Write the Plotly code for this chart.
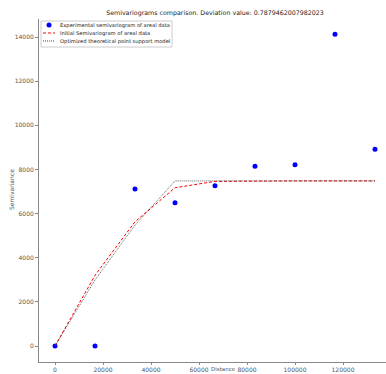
import plotly.graph_objects as go

lags = [0, 16667, 33333, 50000, 66667, 83333, 100000, 116667, 133333]
experimental = [0, 0, 7110, 6490, 7260, 8140, 8210, 14130, 8920]
initial_model = [0, 3200, 5630, 7170, 7460, 7480, 7480, 7480, 7480]
optimized_model = [0, 2990, 5480, 7480, 7480, 7480, 7480, 7480, 7480]

series_names = ["Experimental semivariogram of areal data",
                "Initial Semivariogram of areal data",
                "Optimized theoretical point support model"]
title_text = "Semivariograms comparison. Deviation value: 0.7879462007982023"
x_ticks = [0, 20000, 40000, 60000, 80000, 100000, 120000]
y_ticks = [0, 2000, 4000, 6000, 8000, 10000, 12000, 14000]

W, H = 386, 374
L, R, T, B = 39, 0, 19, 12
PW, PH = W - L - R, H - T - B


def px(x):
    return (x - L) / PW


def py(y):
    return (H - B - y) / PH


fig = go.Figure()
fig.add_trace(go.Scatter(x=lags, y=experimental, mode="markers",
                         marker=dict(color="blue", size=5),
                         name=series_names[0]))
fig.add_trace(go.Scatter(x=lags, y=initial_model, mode="lines",
                         line=dict(color="red", dash="3px,2px", width=1),
                         name=series_names[1]))
fig.add_trace(go.Scatter(x=lags, y=optimized_model, mode="lines",
                         line=dict(color="black", dash="1px,1px", width=1),
                         opacity=0.6,
                         name=series_names[2]))

axis_font = dict(family="DejaVu Sans", size=6, color="#555555")
fig.update_layout(
    width=W, height=H,
    margin=dict(l=L, r=R, t=T, b=B),
    plot_bgcolor="white", paper_bgcolor="white",
    showlegend=False,
    title=dict(text=title_text, xref="paper", x=(215 - L) / PW, xanchor="center",
               yref="container", y=1 - 13 / H, yanchor="middle",
               font=dict(family="DejaVu Sans", size=6.3, color="#222222")),
    xaxis=dict(range=[-6667, 137917], tickvals=x_ticks, ticktext=[str(v) for v in x_ticks],
               showgrid=False, zeroline=False, showline=True, linecolor="#888888",
               linewidth=1, ticks="outside", ticklen=2, tickcolor="#888888",
               tickfont=axis_font),
    yaxis=dict(range=[-725, 14817], tickvals=y_ticks, ticktext=[str(v) for v in y_ticks],
               showgrid=False, zeroline=False, showline=True, linecolor="#888888",
               linewidth=1, ticks="outside", ticklen=3, tickcolor="#888888",
               tickfont=axis_font),
)

# axis titles
fig.add_annotation(text="Semivariance", textangle=-90, xref="paper", yref="paper",
                   x=px(12), y=py(190), xanchor="center", yanchor="middle",
                   showarrow=False,
                   font=dict(family="DejaVu Sans", size=6, color="#555555"))
fig.add_annotation(text="Distance", xref="paper", yref="paper", x=px(223), y=py(374),
                   xanchor="center", yanchor="bottom", showarrow=False,
                   font=dict(family="DejaVu Sans", size=5.5, color="#555555"))

# custom compact legend
fig.add_shape(type="rect", xref="paper", yref="paper",
              x0=px(41), x1=px(172), y0=py(47), y1=py(21),
              line=dict(color="#cccccc", width=1), fillcolor="white", layer="above")
rows = [25, 33, 41]
fig.add_shape(type="circle", xref="paper", yref="paper",
              x0=px(46.5), x1=px(51.5), y0=py(27.5), y1=py(22.5),
              line=dict(color="blue", width=0), fillcolor="blue", layer="above")
fig.add_shape(type="line", xref="paper", yref="paper",
              x0=px(43), x1=px(55), y0=py(rows[1]), y1=py(rows[1]),
              line=dict(color="red", width=1, dash="3px,2px"), layer="above")
fig.add_shape(type="line", xref="paper", yref="paper",
              x0=px(43), x1=px(55), y0=py(rows[2]), y1=py(rows[2]),
              line=dict(color="#444444", width=1, dash="1px,1px"), layer="above")
for name, r in zip(series_names, rows):
    fig.add_annotation(text=name, xref="paper", yref="paper", x=px(58), y=py(r),
                       xanchor="left", yanchor="middle", showarrow=False,
                       font=dict(family="DejaVu Sans", size=5.2, color="#222222"))

fig.write_html("out.html")
